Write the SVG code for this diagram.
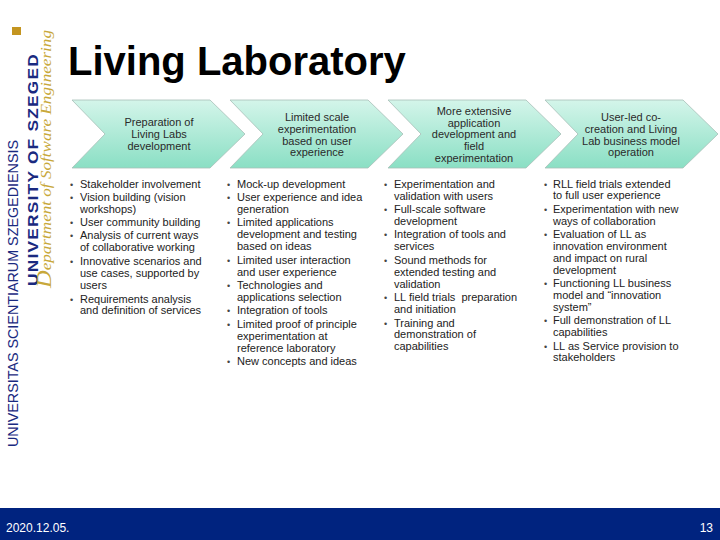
<svg xmlns="http://www.w3.org/2000/svg" width="720" height="540" viewBox="0 0 720 540">
<defs>
<linearGradient id="chev" x1="0" y1="0" x2="0" y2="1">
<stop offset="0" stop-color="#d4f5ea"/>
<stop offset="1" stop-color="#8adfc4"/>
</linearGradient>
<path id="chevShape" d="M0,0 H138 L173,34 L138,68 H0 L33,34 Z"/>
</defs>
<style>
.chev{fill:url(#chev);stroke:#a7bfb7;stroke-width:0.8}
.ct{font-family:"Liberation Sans",Arial,sans-serif;font-size:11px;fill:#2a2a2a;text-anchor:middle}
.bt{font-family:"Liberation Sans",Arial,sans-serif;font-size:11px;fill:#222}
.bu{font-family:"Liberation Sans",Arial,sans-serif;font-size:9px;fill:#444}
</style>
<rect width="720" height="540" fill="#ffffff"/>

<g id="branding">
<rect x="12" y="27" width="9" height="8" fill="#c49520"/>
<text transform="translate(18,447) rotate(-90)" font-family="'Liberation Sans',Arial,sans-serif" font-size="14" fill="#1a2a80" textLength="307" lengthAdjust="spacingAndGlyphs">UNIVERSITAS SCIENTIARUM SZEGEDIENSIS</text>
<text transform="translate(38,286) rotate(-90)" font-family="'Liberation Sans',Arial,sans-serif" font-size="14" font-weight="bold" fill="#1a2a80" textLength="233" lengthAdjust="spacingAndGlyphs" letter-spacing="1">UNIVERSITY OF SZEGED</text>
<text transform="translate(51,288) rotate(-90)" font-family="'Liberation Serif','Times New Roman',serif" font-size="14" font-style="italic" fill="#c8a83a" textLength="258" lengthAdjust="spacingAndGlyphs"><tspan font-size="20">D</tspan>epartment of Software Engineering</text>
</g>

<text id="title" x="68" y="75" font-family="'Liberation Sans',Arial,sans-serif" font-size="40" font-weight="bold" fill="#000">Living Laboratory</text>

<g id="connectors"/>

<g id="stage1">
<use href="#chevShape" class="chev" transform="translate(72,100)"/>
<text class="ct"><tspan x="159" y="126">Preparation of</tspan><tspan x="159" y="138">Living Labs</tspan><tspan x="159" y="150">development</tspan></text>
<g class="bu"><text x="70" y="188">•</text><text x="70" y="201">•</text><text x="70" y="226">•</text><text x="70" y="239">•</text><text x="70" y="265">•</text><text x="70" y="303">•</text></g>
<text class="bt"><tspan x="80" y="188">Stakeholder involvement</tspan><tspan x="80" y="201">Vision building (vision</tspan><tspan x="80" y="213">workshops)</tspan><tspan x="80" y="226">User community building</tspan><tspan x="80" y="239">Analysis of current ways</tspan><tspan x="80" y="251">of collaborative working</tspan><tspan x="80" y="265">Innovative scenarios and</tspan><tspan x="80" y="277">use cases, supported by</tspan><tspan x="80" y="289">users</tspan><tspan x="80" y="303">Requirements analysis</tspan><tspan x="80" y="314">and definition of services</tspan></text>
</g>

<g id="stage2">
<use href="#chevShape" class="chev" transform="translate(230,100)"/>
<text class="ct"><tspan x="317" y="121">Limited scale</tspan><tspan x="317" y="133">experimentation</tspan><tspan x="317" y="145">based on user</tspan><tspan x="317" y="156">experience</tspan></text>
<g class="bu"><text x="227" y="188">•</text><text x="227" y="201">•</text><text x="227" y="226">•</text><text x="227" y="264">•</text><text x="227" y="289">•</text><text x="227" y="314">•</text><text x="227" y="328">•</text><text x="227" y="365">•</text></g>
<text class="bt"><tspan x="237" y="188">Mock-up development</tspan><tspan x="237" y="201">User experience and idea</tspan><tspan x="237" y="213">generation</tspan><tspan x="237" y="226">Limited applications</tspan><tspan x="237" y="238">development and testing</tspan><tspan x="237" y="250">based on ideas</tspan><tspan x="237" y="264">Limited user interaction</tspan><tspan x="237" y="276">and user experience</tspan><tspan x="237" y="289">Technologies and</tspan><tspan x="237" y="301">applications selection</tspan><tspan x="237" y="314">Integration of tools</tspan><tspan x="237" y="328">Limited proof of principle</tspan><tspan x="237" y="340">experimentation at</tspan><tspan x="237" y="352">reference laboratory</tspan><tspan x="237" y="365">New concepts and ideas</tspan></text>
</g>

<g id="stage3">
<use href="#chevShape" class="chev" transform="translate(388,100)"/>
<text class="ct"><tspan x="474" y="115">More extensive</tspan><tspan x="474" y="127">application</tspan><tspan x="474" y="138">development and</tspan><tspan x="474" y="150">field</tspan><tspan x="474" y="162">experimentation</tspan></text>
<g class="bu"><text x="384" y="188">•</text><text x="384" y="213">•</text><text x="384" y="238">•</text><text x="384" y="264">•</text><text x="384" y="301">•</text><text x="384" y="327">•</text></g>
<text class="bt"><tspan x="394" y="188">Experimentation and</tspan><tspan x="394" y="200">validation with users</tspan><tspan x="394" y="213">Full-scale software</tspan><tspan x="394" y="225">development</tspan><tspan x="394" y="238">Integration of tools and</tspan><tspan x="394" y="250">services</tspan><tspan x="394" y="264">Sound methods for</tspan><tspan x="394" y="276">extended testing and</tspan><tspan x="394" y="288">validation</tspan><tspan x="394" y="301" xml:space="preserve">LL field trials  preparation</tspan><tspan x="394" y="313">and initiation</tspan><tspan x="394" y="327">Training and</tspan><tspan x="394" y="338">demonstration of</tspan><tspan x="394" y="350">capabilities</tspan></text>
</g>

<g id="stage4">
<use href="#chevShape" class="chev" transform="translate(545,100)"/>
<text class="ct"><tspan x="631" y="121">User-led co-</tspan><tspan x="631" y="133">creation and Living</tspan><tspan x="631" y="145">Lab business model</tspan><tspan x="631" y="156">operation</tspan></text>
<g class="bu"><text x="544" y="188">•</text><text x="544" y="213">•</text><text x="544" y="238">•</text><text x="544" y="287">•</text><text x="544" y="324">•</text><text x="544" y="350">•</text></g>
<text class="bt"><tspan x="553" y="188">RLL field trials extended</tspan><tspan x="553" y="199">to full user experience</tspan><tspan x="553" y="213">Experimentation with new</tspan><tspan x="553" y="225">ways of collaboration</tspan><tspan x="553" y="238">Evaluation of LL as</tspan><tspan x="553" y="250">innovation environment</tspan><tspan x="553" y="262">and impact on rural</tspan><tspan x="553" y="274">development</tspan><tspan x="553" y="287">Functioning LL business</tspan><tspan x="553" y="299">model and “innovation</tspan><tspan x="553" y="311">system”</tspan><tspan x="553" y="324">Full demonstration of LL</tspan><tspan x="553" y="336">capabilities</tspan><tspan x="553" y="350">LL as Service provision to</tspan><tspan x="553" y="361">stakeholders</tspan></text>
</g>

<g id="footer">
<rect x="0" y="508" width="720" height="32" fill="#00237f"/>
<text x="6" y="532" font-family="'Liberation Sans',Arial,sans-serif" font-size="12" fill="#ffffff">2020.12.05.</text>
<text x="713" y="532" font-family="'Liberation Sans',Arial,sans-serif" font-size="12" fill="#ffffff" text-anchor="end">13</text>
</g>
</svg>
